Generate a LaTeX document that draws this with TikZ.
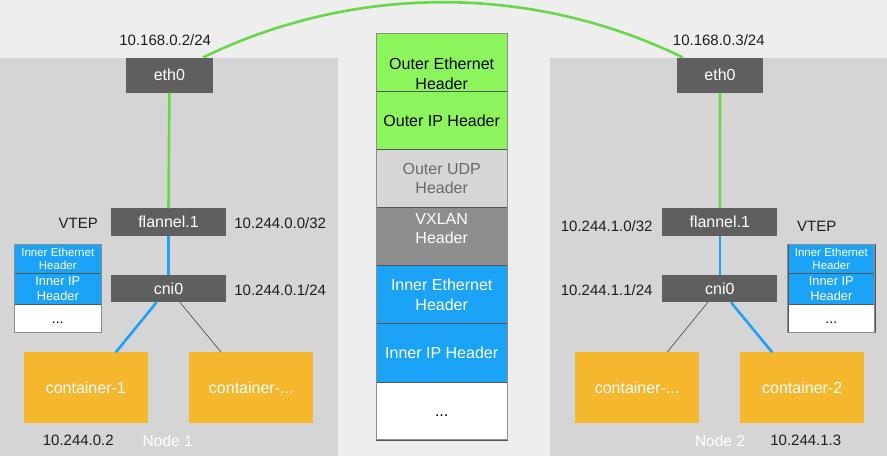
\documentclass[tikz,border=0pt]{standalone}
\usepackage{fontspec}
\setmainfont{Liberation Sans}
\usetikzlibrary{calc}

\definecolor{pagebg}{HTML}{EEEEEE}
\definecolor{panelbg}{HTML}{D5D5D5}
\definecolor{ifgray}{HTML}{5F5F5F}
\definecolor{wiregreen}{HTML}{66D84A}
\definecolor{wireblue}{HTML}{1BA1F5}
\definecolor{hdrgreen}{HTML}{8DF55C}
\definecolor{hdrblue}{HTML}{1BA3F7}
\definecolor{hdrlight}{HTML}{D6D6D6}
\definecolor{hdrdark}{HTML}{8E8E8E}
\definecolor{udpink}{HTML}{6A6A6A}
\definecolor{ctrorange}{HTML}{F5B72E}
\definecolor{rowline}{HTML}{555555}
\definecolor{stackedge}{HTML}{8C8C8C}
\definecolor{thinline}{HTML}{444444}
\definecolor{labelink}{HTML}{1E1E1E}

\begin{document}
\begin{tikzpicture}[x=1pt,y=-1pt,
  every node/.style={inner sep=0pt,outer sep=0pt},
  iface/.style={fill=ifgray,text=white,font=\fontsize{16}{19}\selectfont,
                minimum width=115pt,minimum height=27.4pt},
  ethbox/.style={iface,minimum width=86.7pt,minimum height=35.2pt},
  ctrbox/.style={fill=ctrorange,text=white,font=\fontsize{16}{19}\selectfont,
                 minimum width=124pt,minimum height=71pt},
  addr/.style={text=labelink,font=\fontsize{15}{18}\selectfont},
  hostname/.style={text=white,font=\fontsize{15.5}{18}\selectfont},
  hdrrow/.style={draw=rowline,line width=0.7pt,minimum width=131.3pt,minimum height=58.1pt},
  hdrtext/.style={align=center,font=\fontsize{16}{19.3}\selectfont},
  minirow/.style={draw=rowline,line width=0.6pt,minimum width=87pt},
  greenwire/.style={draw=wiregreen,line width=2.6pt},
  bluewire/.style={draw=wireblue,line width=2.6pt},
  thinwire/.style={draw=thinline,line width=0.6pt},
]
% page and host panels
\fill[pagebg] (0,0) rectangle (887,456);
\useasboundingbox (0,0) rectangle (887,456);
\fill[panelbg] (0,57.5) rectangle (337.7,456);
\fill[panelbg] (550,57.5) rectangle (887,456);

% ---------- Node 1 ----------
\node[ethbox] (ethA) at (169.4,75.1) {eth0};
\node[iface] (flA) at (168.5,222) {flannel.1};
\node[iface] (cniA) at (168.5,288.7) {cni0};
\node[ctrbox] (c1) at (85.8,387.8) {container-1};
\node[ctrbox] (cxA) at (251.2,387.8) {container-...};

\node[addr] (ipA) at (165.2,40) {10.168.0.2/24};
\node[addr] (vtepA) at (78.3,223.3) {VTEP};
\node[addr] (flipA) at (280.2,223.3) {10.244.0.0/32};
\node[addr] (cniipA) at (280.2,290) {10.244.0.1/24};
\node[addr] (c1ip) at (78.3,440.7) {10.244.0.2};
\node[hostname] (hostA) at (167.7,440.7) {Node 1};

% inner frame carried inside Node 1
\node[minirow,fill=hdrblue,minimum height=29pt] (mA1) at (57.8,258.8) {};
\node[minirow,fill=hdrblue,minimum height=30.7pt] (mA2) at (57.8,288.7) {};
\node[minirow,fill=white,minimum height=28.7pt] (mA3) at (57.8,318.3) {};
\draw[stackedge,line width=0.8pt] (mA1.north west) rectangle (mA3.south east);
\node[align=center,text=white,font=\fontsize{11.5}{13.3}\selectfont] at (mA1) {Inner Ethernet\\Header};
\node[align=center,text=white,font=\fontsize{12.8}{15.3}\selectfont] at (mA2) {Inner IP\\Header};
\node[text=black,font=\fontsize{14}{16}\selectfont] at (57.8,323) {...};

\draw[greenwire] (ethA.south) -- (flA.north);
\draw[bluewire] (flA.south) -- (cniA.north);
\draw[bluewire] ($(cniA.south)+(-12,0)$) -- ($(c1.north)+(30,0)$);
\draw[thinwire] ($(cniA.south)+(11.5,0)$) -- ($(cxA.north)+(-30,0)$);

% ---------- Node 2 ----------
\node[ethbox] (ethB) at (720,75.1) {eth0};
\node[iface] (flB) at (719.8,222) {flannel.1};
\node[iface] (cniB) at (719.8,288.7) {cni0};
\node[ctrbox] (cxB) at (637,387.8) {container-...};
\node[ctrbox] (c2) at (802.2,387.8) {container-2};

\node[addr] (ipB) at (718.8,40) {10.168.0.3/24};
\node[addr] (vtepB) at (816.7,226) {VTEP};
\node[addr] (flipB) at (606.7,226) {10.244.1.0/32};
\node[addr] (cniipB) at (606.7,290) {10.244.1.1/24};
\node[addr] (c2ip) at (805.8,440.7) {10.244.1.3};
\node[hostname] (hostB) at (720,440.7) {Node 2};

% inner frame carried inside Node 2
\node[minirow,fill=hdrblue,minimum height=29pt] (mB1) at (831.3,258.8) {};
\node[minirow,fill=hdrblue,minimum height=30.7pt] (mB2) at (831.3,288.7) {};
\node[minirow,fill=white,minimum height=28.7pt] (mB3) at (831.3,318.3) {};
\draw[stackedge,line width=0.8pt] (mB1.north west) rectangle (mB3.south east);
\node[align=center,text=white,font=\fontsize{11.5}{13.3}\selectfont] at (mB1) {Inner Ethernet\\Header};
\node[align=center,text=white,font=\fontsize{12.8}{15.3}\selectfont] at (mB2) {Inner IP\\Header};
\node[text=black,font=\fontsize{14}{16}\selectfont] at (831.3,323) {...};

\draw[greenwire] (ethB.south) -- (flB.north);
\draw[bluewire] (flB.south) -- (cniB.north);
\draw[thinwire] ($(cniB.south)+(-12,0)$) -- ($(cxB.north)+(30,0)$);
\draw[bluewire] ($(cniB.south)+(11.2,0)$) -- ($(c2.north)+(-30,0)$);

% underlay link between the two eth0 interfaces
\draw[greenwire] ($(ethA.north east)+(-9.7,0)$)
  .. controls +(151,-73.7) and +(-151,-73.7) .. ($(ethB.north west)+(6.3,0)$);

% ---------- VXLAN packet layout ----------
\node[hdrrow,fill=hdrgreen] (h1) at (441.7,62.3) {};
\node[hdrrow,fill=hdrgreen] (h2) at (441.7,120.4) {};
\node[hdrrow,fill=hdrlight] (h3) at (441.7,178.5) {};
\node[hdrrow,fill=hdrdark] (h4) at (441.7,236.6) {};
\node[hdrrow,fill=hdrblue] (h5) at (441.7,294.7) {};
\node[hdrrow,fill=hdrblue] (h6) at (441.7,352.8) {};
\node[hdrrow,fill=white] (h7) at (441.7,410.9) {};
\draw[stackedge,line width=1pt] (h1.north west) rectangle (h7.south east);

\node[hdrtext,text=black] at ($(h1)+(0,11.4)$) {Outer Ethernet\\Header};
\node[hdrtext,text=black] at (h2) {Outer IP Header};
\node[hdrtext,text=udpink] at (h3) {Outer UDP\\Header};
\node[hdrtext,text=white] at ($(h4)+(0,-8.3)$) {VXLAN\\Header};
\node[hdrtext,text=white] at (h5) {Inner Ethernet\\Header};
\node[hdrtext,text=white] at (h6) {Inner IP Header};
\node[text=black,font=\fontsize{16}{19}\selectfont] at (441.7,416) {...};
\end{tikzpicture}
\end{document}
